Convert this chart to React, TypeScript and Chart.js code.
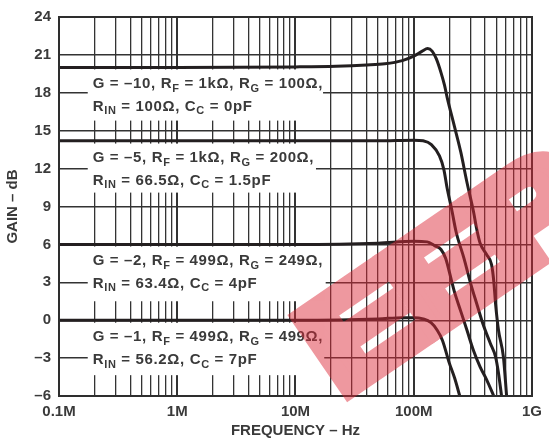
import { useEffect, useRef } from 'react';
import { Chart, registerables } from 'chart.js';

Chart.register(...registerables);

// Frequency in MHz, gain in dB
const g10Freq = [0.1, 1, 10, 22, 40, 57, 80, 100, 118, 131, 143, 155, 170, 182, 192, 220, 250, 282, 320, 341, 364, 413, 455, 475, 492, 521, 573, 610];
const g10Gain = [20.0, 20.0, 20.05, 20.1, 20.2, 20.3, 20.55, 20.9, 21.3, 21.5, 21.3, 20.7, 19.6, 18.6, 17.6, 15.4, 13.3, 10.9, 8.6, 7.2, 6.1, 5.2, 4.4, 3.1, 1.3, -0.8, -2.9, -6];

const g5Freq = [0.1, 1, 10, 50, 100, 120, 141, 165, 180, 192, 209, 228, 266, 303, 341, 385, 443, 492, 521, 553];
const g5Gain = [14.2, 14.2, 14.2, 14.2, 14.25, 14.2, 13.9, 13.0, 11.9, 10.4, 8.8, 7.0, 4.9, 2.9, 1.3, -0.3, -1.8, -2.9, -4.2, -6];

const g2Freq = [0.1, 1, 10, 50, 100, 130, 150, 170, 186, 209, 220, 250, 282, 320, 364, 413, 475];
const g2Gain = [6.0, 6.0, 6.0, 6.1, 6.25, 6.2, 5.9, 5.6, 4.9, 3.1, 2.3, 0.7, -0.8, -2.4, -3.7, -4.7, -6];

const g1Freq = [0.1, 1, 10, 50, 80, 100, 120, 140, 158, 175, 200, 222, 245];
const g1Gain = [0, 0, 0, 0.1, 0.2, 0.2, 0.1, -0.2, -0.8, -1.6, -3.4, -4.6, -6];

// Axis ticks
const xTickValues = [0.1, 1, 10, 100, 1000];
const xTickLabels = ['0.1M', '1M', '10M', '100M', '1G'];
const yTickValues = [-6, -3, 0, 3, 6, 9, 12, 15, 18, 21, 24];

// Condition labels (subscripts written as _XX)
const conditionText = [
  ['G = \u201310, R_F = 1k\u03A9, R_G = 100\u03A9,', 'R_IN = 100\u03A9, C_C = 0pF'],
  ['G = \u20135, R_F = 1k\u03A9, R_G = 200\u03A9,', 'R_IN = 66.5\u03A9, C_C = 1.5pF'],
  ['G = \u20132, R_F = 499\u03A9, R_G = 249\u03A9,', 'R_IN = 63.4\u03A9, C_C = 4pF'],
  ['G = \u20131, R_F = 499\u03A9, R_G = 499\u03A9,', 'R_IN = 56.2\u03A9, C_C = 7pF'],
];

// Label panels in axis units: [left MHz, right MHz, top dB, bottom dB]
const conditionPanels = [
  [0.175, 17.1, 19.85, 15.8],
  [0.175, 14.9, 13.98, 10.1],
  [0.175, 18.0, 5.83, 1.5],
  [0.175, 17.5, -0.2, -4.35],
];

const FONT = '"Liberation Sans", Arial, Helvetica, sans-serif';
const INK = '#3a3a3a';
const CURVE = '#231f20';

const gridValues: number[] = [];
for (let k = -1; k <= 2; k++) {
  for (let m = 1; m <= 9; m++) gridValues.push(Number((m * Math.pow(10, k)).toPrecision(6)));
}
gridValues.push(1000);

const toPoints = (fx: number[], gy: number[]) => fx.map((f, i) => ({ x: f, y: gy[i] }));

function drawRich(ctx: CanvasRenderingContext2D, str: string, x: number, y: number, size: number) {
  const parts = str.split(/(_[A-Z]+)/);
  let cx = x;
  for (const p of parts) {
    if (!p) continue;
    if (p.startsWith('_')) {
      const t = p.slice(1);
      ctx.font = `bold ${Math.round(size * 0.74)}px ${FONT}`;
      ctx.fillText(t, cx, y + size * 0.32);
      cx += ctx.measureText(t).width;
    } else {
      ctx.font = `bold ${size}px ${FONT}`;
      ctx.fillText(p, cx, y);
      cx += ctx.measureText(p).width;
    }
  }
}

const panelPlugin = {
  id: 'conditionPanels',
  beforeDatasetsDraw(chart: any) {
    const { ctx, scales } = chart;
    const xs = scales.x;
    const ys = scales.y;
    ctx.save();
    (ctx as any).letterSpacing = '0.65px';
    conditionPanels.forEach((p, i) => {
      const l = xs.getPixelForValue(p[0]);
      const r = xs.getPixelForValue(p[1]);
      const t = ys.getPixelForValue(p[2]);
      const b = ys.getPixelForValue(p[3]);
      ctx.fillStyle = '#ffffff';
      ctx.fillRect(l, t, r - l, b - t);
      ctx.fillStyle = INK;
      ctx.textBaseline = 'middle';
      ctx.textAlign = 'left';
      drawRich(ctx, conditionText[i][0], l + 5, t + 14.5, 15);
      drawRich(ctx, conditionText[i][1], l + 5, t + 37, 15);
    });
    ctx.restore();
  },
};

const framePlugin = {
  id: 'plotFrame',
  afterDatasetsDraw(chart: any) {
    const { ctx, chartArea } = chart;
    ctx.save();
    ctx.strokeStyle = '#2e2e2e';
    ctx.lineWidth = 2;
    ctx.strokeRect(chartArea.left, chartArea.top, chartArea.right - chartArea.left, chartArea.bottom - chartArea.top);
    ctx.restore();
  },
};

// Heavy translucent stamp lettering across the roll-off region
const stampPlugin = {
  id: 'stamp',
  afterDraw(chart: any) {
    const { ctx } = chart;
    const off = document.createElement('canvas');
    off.width = chart.width;
    off.height = chart.height;
    const o = off.getContext('2d');
    if (!o) return;
    o.translate(448, 280);
    o.rotate(-0.6);
    o.scale(1.25, 1);
    o.fillStyle = 'rgb(220, 40, 55)';
    o.strokeStyle = 'rgb(220, 40, 55)';
    o.lineWidth = 15;
    o.lineJoin = 'miter';
    o.font = `900 132px ${FONT}`;
    (o as any).letterSpacing = '-6px';
    o.textAlign = 'center';
    o.textBaseline = 'middle';
    o.fillText('EEP', 0, 0);
    o.strokeText('EEP', 0, 0);
    ctx.save();
    ctx.globalAlpha = 0.48;
    ctx.drawImage(off, 0, 0);
    ctx.restore();
  },
};

export default function App() {
  const canvasRef = useRef<HTMLCanvasElement | null>(null);

  useEffect(() => {
    if (!canvasRef.current) return;
    const mk = (fx: number[], gy: number[]) => ({
      data: toPoints(fx, gy),
      borderColor: CURVE,
      borderWidth: 3,
      pointRadius: 0,
      fill: false,
      cubicInterpolationMode: 'monotone' as const,
    });
    const chart = new Chart(canvasRef.current, {
      type: 'line',
      data: {
        datasets: [mk(g10Freq, g10Gain), mk(g5Freq, g5Gain), mk(g2Freq, g2Gain), mk(g1Freq, g1Gain)],
      },
      options: {
        animation: false,
        responsive: false,
        maintainAspectRatio: false,
        layout: { padding: { top: 13, right: 10, left: 0, bottom: 0 } },
        plugins: { legend: { display: false }, tooltip: { enabled: false } },
        scales: {
          x: {
            type: 'logarithmic',
            min: 0.1,
            max: 1000,
            afterBuildTicks: (s: any) => {
              s.ticks = gridValues.map((v) => ({ value: v }));
            },
            afterFit: (s: any) => {
              s.height = 48;
            },
            ticks: {
              autoSkip: false,
              maxRotation: 0,
              padding: 7,
              color: INK,
              font: { family: FONT, size: 15, weight: 'bold' },
              callback: (v: any) => {
                const idx = xTickValues.findIndex((t) => Math.abs(t - Number(v)) < 1e-9);
                return idx >= 0 ? xTickLabels[idx] : '';
              },
            },
            grid: {
              drawTicks: false,
              color: '#333333',
              lineWidth: (c: any) =>
                xTickValues.some((t) => Math.abs(t - c.tick?.value) < 1e-9) ? 2 : 1.3,
            },
            border: { display: false },
            title: {
              display: true,
              text: 'FREQUENCY \u2013 Hz',
              color: INK,
              font: { family: FONT, size: 15, weight: 'bold' },
              padding: { top: 4, bottom: 4 },
            },
          },
          y: {
            min: -6,
            max: 24,
            afterBuildTicks: (s: any) => {
              s.ticks = yTickValues.map((v) => ({ value: v }));
            },
            afterFit: (s: any) => {
              s.width = 59;
            },
            ticks: {
              padding: 8,
              color: INK,
              font: { family: FONT, size: 15, weight: 'bold' },
              callback: (v: any) => (Number(v) < 0 ? '\u2013' + Math.abs(Number(v)) : String(v)),
            },
            grid: { drawTicks: false, color: '#333333', lineWidth: 1.4 },
            border: { display: false },
            title: {
              display: true,
              text: 'GAIN \u2013 dB',
              color: INK,
              font: { family: FONT, size: 15, weight: 'bold' },
              padding: { top: 4, bottom: 4 },
            },
          },
        },
      },
      plugins: [panelPlugin, framePlugin, stampPlugin],
    });
    return () => chart.destroy();
  }, []);

  return (
    <div style={{ position: 'fixed', left: 0, top: 0, width: 549, height: 444, background: '#fff' }}>
      <canvas ref={canvasRef} width={549} height={444} style={{ width: 549, height: 444 }} />
    </div>
  );
}
